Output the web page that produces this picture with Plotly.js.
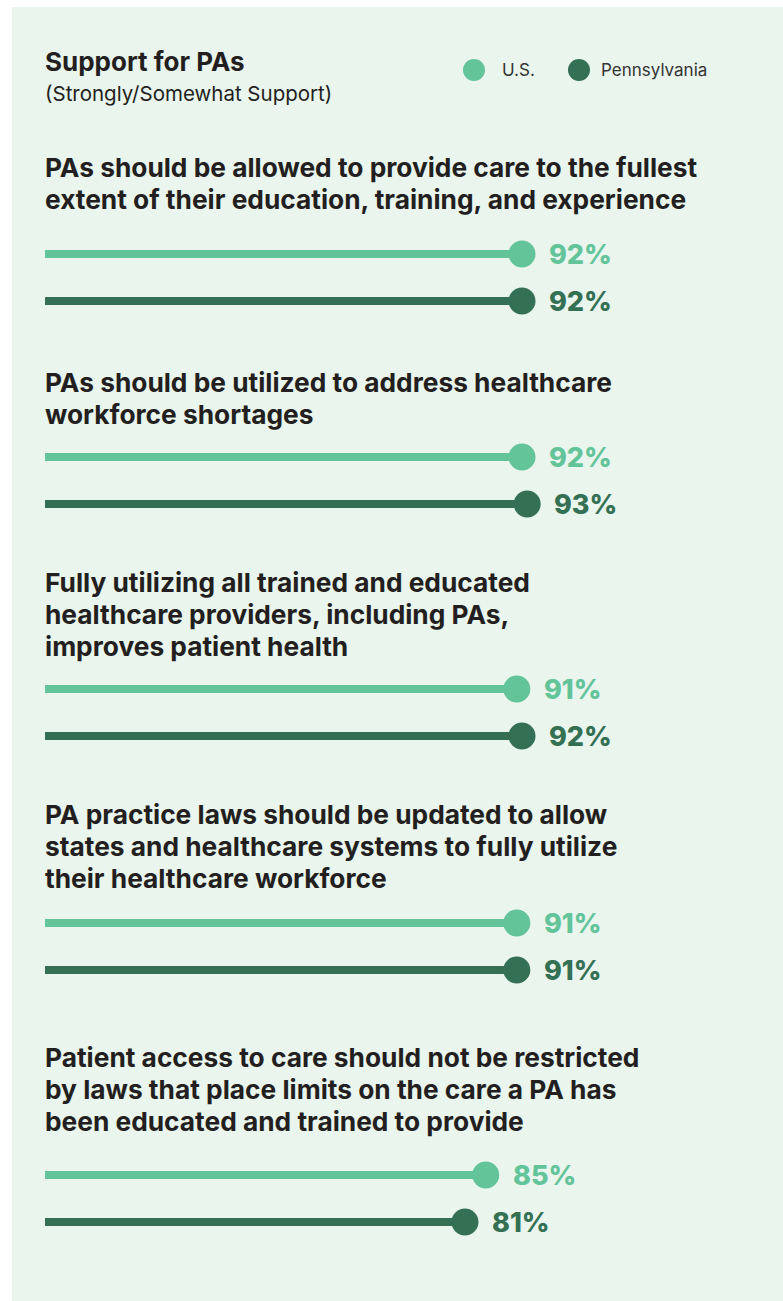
<!DOCTYPE html>
<html>
<head>
<meta charset="utf-8">
<script src="https://cdn.plot.ly/plotly-3.0.1.min.js"></script>
<style>
  html, body { margin: 0; padding: 0; background: #ffffff; }
  #chart { width: 783px; height: 1301px; }
</style>
</head>
<body>
<div id="chart"></div>
<script>
// ---------- DATA ----------
const chartTitle = "Support for PAs";
const chartSubtitle = "(Strongly/Somewhat Support)";
const seriesNames = ["U.S.", "Pennsylvania"];
const questions = [
  "PAs should be allowed to provide care to the fullest<br>extent of their education, training, and experience",
  "PAs should be utilized to address healthcare<br>workforce shortages",
  "Fully utilizing all trained and educated<br>healthcare providers, including PAs,<br>improves patient health",
  "PA practice laws should be updated to allow<br>states and healthcare systems to fully utilize<br>their healthcare workforce",
  "Patient access to care should not be restricted<br>by laws that place limits on the care a PA has<br>been educated and trained to provide"
];
const usValues = [92, 92, 91, 91, 85];
const paValues = [92, 93, 92, 91, 81];

// ---------- LAYOUT (pixel positions, top-down) ----------
const W = 783, H = 1301;
const headingFirstLine = [167, 382, 582, 814, 1057];
const headingLineGap = 32;
const usRowY = [254, 457, 689, 923, 1175];
const rowGap = 47;
const paRowY = usRowY.map(y => y + rowGap);

const colors = { us: "#63c49a", pa: "#347054", text: "#231f20", bg: "#e9f5ed" };
const FONT = "Inter, 'Noto Sans', 'DejaVu Sans', sans-serif";

function lineTrace(vals, ys, color, name) {
  const x = [], y = [];
  vals.forEach((v, i) => { x.push(0, v, null); y.push(ys[i], ys[i], null); });
  return { x, y, mode: "lines", type: "scatter", name, showlegend: false, hoverinfo: "skip",
           line: { color, width: 8 } };
}
function markerTrace(vals, ys, color, name) {
  return { x: vals, y: ys, mode: "markers", type: "scatter", name, showlegend: false,
           marker: { color, size: 27, line: { width: 0 } },
           hovertemplate: name + ": %{x}%<extra></extra>" };
}

const traces = [
  lineTrace(usValues, usRowY, colors.us, seriesNames[0]),
  lineTrace(paValues, paRowY, colors.pa, seriesNames[1]),
  markerTrace(usValues, usRowY, colors.us, seriesNames[0]),
  markerTrace(paValues, paRowY, colors.pa, seriesNames[1])
];

const annotations = [];
annotations.push({ text: "<b>" + chartTitle + "</b>", x: 0, y: 61, xref: "x", yref: "y",
  xanchor: "left", yanchor: "middle", xshift: -2, showarrow: false,
  font: { family: FONT, size: 26, color: colors.text, weight: 700 } });
annotations.push({ text: chartSubtitle, x: 0, y: 93, xref: "x", yref: "y",
  xanchor: "left", yanchor: "middle", xshift: -2, showarrow: false,
  font: { family: FONT, size: 20.5, color: colors.text } });

questions.forEach((q, i) => {
  q.split("<br>").forEach((line, k) => {
    annotations.push({ text: line, x: 0, y: headingFirstLine[i] + k * headingLineGap,
      xref: "x", yref: "y", xanchor: "left", yanchor: "middle", xshift: -2,
      align: "left", showarrow: false,
      font: { family: FONT, size: 26.3, color: colors.text, weight: 700 } });
  });
});

function valueLabels(vals, ys, color) {
  vals.forEach((v, i) => {
    annotations.push({ text: v + "%", x: v, y: ys[i], xref: "x", yref: "y",
      xanchor: "left", yanchor: "middle", xshift: 25, showarrow: false,
      font: { family: FONT, size: 27, color, weight: 800 } });
  });
}
valueLabels(usValues, usRowY, colors.us);
valueLabels(paValues, paRowY, colors.pa);

// legend (custom)
const legendItems = [
  { name: seriesNames[0], color: colors.us, cx: 474, tx: 500 },
  { name: seriesNames[1], color: colors.pa, cx: 579, tx: 599 }
];
const shapes = [
  { type: "rect", xref: "paper", yref: "y", x0: 12 / W, x1: 1, y0: 7, y1: H,
    fillcolor: colors.bg, line: { width: 0 }, layer: "below" }
];
legendItems.forEach(it => {
  shapes.push({ type: "circle", xref: "paper", yref: "y", xsizemode: "pixel", ysizemode: "pixel",
    xanchor: it.cx / W, yanchor: 70, x0: -11, x1: 11, y0: -11, y1: 11,
    fillcolor: it.color, line: { width: 0 } });
  annotations.push({ text: it.name, x: it.tx / W, y: 70, xref: "paper", yref: "y",
    xanchor: "left", yanchor: "middle", showarrow: false,
    font: { family: FONT, size: 17, color: "#333333" } });
});

// x scale: 0 -> 45px, 92 -> 522px
const pxPerUnit = 477 / 92;
const x0 = -45 / pxPerUnit;
const x1 = x0 + W / pxPerUnit;

const layout = {
  width: W, height: H,
  margin: { l: 0, r: 0, t: 0, b: 0, pad: 0 },
  paper_bgcolor: "#ffffff",
  plot_bgcolor: "rgba(0,0,0,0)",
  showlegend: false,
  xaxis: { range: [x0, x1], visible: false, fixedrange: true },
  yaxis: { range: [H, 0], visible: false, fixedrange: true },
  shapes, annotations,
  font: { family: FONT }
};

Plotly.newPlot("chart", traces, layout, { displayModeBar: false, staticPlot: true });
</script>
</body>
</html>
